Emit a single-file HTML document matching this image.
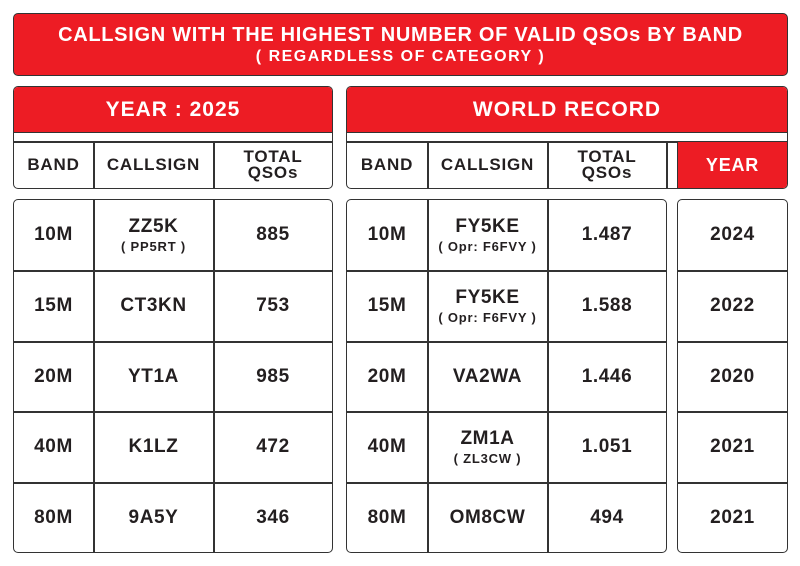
<!DOCTYPE html>
<html><head><style>
body{margin:0;width:800px;height:566px;background:#fff;font-family:"Liberation Sans",Arial,sans-serif;font-weight:bold;color:#231f20;position:relative;overflow:hidden}
.a{position:absolute;box-sizing:border-box}
.red{background:#ed1c24;color:#fff}
.bx{border:1.5px solid #333;border-radius:5px}
.c{display:flex;align-items:center;justify-content:center;flex-direction:column;text-align:center}
.vl{position:absolute;top:0;bottom:0;width:1.5px;background:#333}
.hl{position:absolute;left:0;right:0;height:1.5px;background:#333}
.cell{position:absolute;display:flex;align-items:center;justify-content:center;flex-direction:column;text-align:center;font-size:19px;line-height:22px;letter-spacing:0.6px}
.cell small{font-size:13px;line-height:17px;display:block;letter-spacing:0.8px}
.hd{font-size:17px;line-height:16px;letter-spacing:0.8px}
</style></head><body>
<div class="a red bx c" style="left:13px;top:13px;width:775px;height:63px;letter-spacing:0.7px">
<div style="font-size:20px;line-height:24px">CALLSIGN WITH THE HIGHEST NUMBER OF VALID QSOs BY BAND</div>
<div style="font-size:16px;line-height:20px;letter-spacing:1.5px">( REGARDLESS OF CATEGORY )</div></div>

<div class="a bx" style="left:13px;top:86px;width:320px;height:103px;overflow:hidden">
<div class="a red c" style="left:0;top:0;right:0;height:46px;font-size:21px;border-bottom:1.5px solid #333;letter-spacing:1px">YEAR : 2025</div>
<div class="hl" style="top:54px"></div>
<div class="vl" style="left:79px;top:55px"></div><div class="vl" style="left:199px;top:55px"></div>
<div class="cell hd" style="left:0;width:79px;top:55px;bottom:0">BAND</div>
<div class="cell hd" style="left:80px;width:119px;top:55px;bottom:0">CALLSIGN</div>
<div class="cell hd" style="left:200px;width:118px;top:55px;bottom:0">TOTAL<br>QSOs</div>
</div>

<div class="a bx" style="left:346px;top:86px;width:442px;height:103px;overflow:hidden">
<div class="a red c" style="left:0;top:0;right:0;height:46px;font-size:21px;border-bottom:1.5px solid #333;letter-spacing:1px">WORLD RECORD</div>
<div class="hl" style="top:54px"></div>
<div class="vl" style="left:80px;top:55px"></div><div class="vl" style="left:200px;top:55px"></div><div class="vl" style="left:319px;top:55px"></div><div class="vl" style="left:330px;top:55px"></div>
<div class="a red c" style="left:331px;right:0;top:55px;bottom:0;font-size:18px;letter-spacing:0.8px">YEAR</div>
<div class="cell hd" style="left:0;width:80px;top:55px;bottom:0">BAND</div>
<div class="cell hd" style="left:81px;width:119px;top:55px;bottom:0">CALLSIGN</div>
<div class="cell hd" style="left:201px;width:118px;top:55px;bottom:0">TOTAL<br>QSOs</div>
</div>

<div class="a bx" style="left:13px;top:199px;width:320px;height:354px">
<div class="vl" style="left:79px"></div><div class="vl" style="left:199px"></div>
<div class="hl" style="top:70px"></div><div class="hl" style="top:141px"></div><div class="hl" style="top:211px"></div><div class="hl" style="top:282px"></div>
<div class="cell" style="left:0;width:79px;top:0;height:70px">10M</div>
<div class="cell" style="left:80px;width:119px;top:0;height:70px">ZZ5K<small>( PP5RT )</small></div>
<div class="cell" style="left:200px;width:118px;top:0;height:70px">885</div>
<div class="cell" style="left:0;width:79px;top:71px;height:70px">15M</div>
<div class="cell" style="left:80px;width:119px;top:71px;height:70px">CT3KN</div>
<div class="cell" style="left:200px;width:118px;top:71px;height:70px">753</div>
<div class="cell" style="left:0;width:79px;top:142px;height:70px">20M</div>
<div class="cell" style="left:80px;width:119px;top:142px;height:70px">YT1A</div>
<div class="cell" style="left:200px;width:118px;top:142px;height:70px">985</div>
<div class="cell" style="left:0;width:79px;top:212px;height:70px">40M</div>
<div class="cell" style="left:80px;width:119px;top:212px;height:70px">K1LZ</div>
<div class="cell" style="left:200px;width:118px;top:212px;height:70px">472</div>
<div class="cell" style="left:0;width:79px;top:283px;height:69px">80M</div>
<div class="cell" style="left:80px;width:119px;top:283px;height:69px">9A5Y</div>
<div class="cell" style="left:200px;width:118px;top:283px;height:69px">346</div>
</div>

<div class="a bx" style="left:346px;top:199px;width:321px;height:354px">
<div class="vl" style="left:80px"></div><div class="vl" style="left:200px"></div>
<div class="hl" style="top:70px"></div><div class="hl" style="top:141px"></div><div class="hl" style="top:211px"></div><div class="hl" style="top:282px"></div>
<div class="cell" style="left:0;width:80px;top:0;height:70px">10M</div>
<div class="cell" style="left:81px;width:119px;top:0;height:70px">FY5KE<small>( Opr: F6FVY )</small></div>
<div class="cell" style="left:201px;width:118px;top:0;height:70px">1.487</div>
<div class="cell" style="left:0;width:80px;top:71px;height:70px">15M</div>
<div class="cell" style="left:81px;width:119px;top:71px;height:70px">FY5KE<small>( Opr: F6FVY )</small></div>
<div class="cell" style="left:201px;width:118px;top:71px;height:70px">1.588</div>
<div class="cell" style="left:0;width:80px;top:142px;height:70px">20M</div>
<div class="cell" style="left:81px;width:119px;top:142px;height:70px">VA2WA</div>
<div class="cell" style="left:201px;width:118px;top:142px;height:70px">1.446</div>
<div class="cell" style="left:0;width:80px;top:212px;height:70px">40M</div>
<div class="cell" style="left:81px;width:119px;top:212px;height:70px">ZM1A<small>( ZL3CW )</small></div>
<div class="cell" style="left:201px;width:118px;top:212px;height:70px">1.051</div>
<div class="cell" style="left:0;width:80px;top:283px;height:69px">80M</div>
<div class="cell" style="left:81px;width:119px;top:283px;height:69px">OM8CW</div>
<div class="cell" style="left:201px;width:118px;top:283px;height:69px">494</div>
</div>

<div class="a bx" style="left:677px;top:199px;width:111px;height:354px">
<div class="hl" style="top:70px"></div><div class="hl" style="top:141px"></div><div class="hl" style="top:211px"></div><div class="hl" style="top:282px"></div>
<div class="cell" style="left:0;right:0;top:0;height:70px">2024</div>
<div class="cell" style="left:0;right:0;top:71px;height:70px">2022</div>
<div class="cell" style="left:0;right:0;top:142px;height:70px">2020</div>
<div class="cell" style="left:0;right:0;top:212px;height:70px">2021</div>
<div class="cell" style="left:0;right:0;top:283px;height:69px">2021</div>
</div>
</body></html>
